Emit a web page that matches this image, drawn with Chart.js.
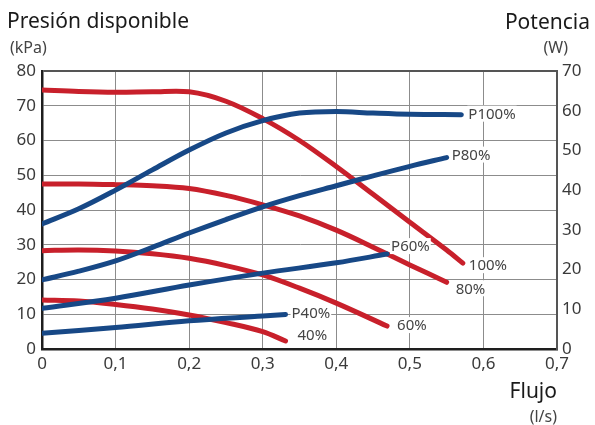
<!DOCTYPE html>
<html>
<head>
<meta charset="utf-8">
<script src="https://cdn.jsdelivr.net/npm/chart.js@4.4.0/dist/chart.umd.min.js"></script>
<style>
  html, body { margin: 0; padding: 0; background: #fff; }
  #wrap { position: relative; width: 595px; height: 425px; font-family: 'Noto Sans', sans-serif; color: #1a1a1a; }
  #wrap canvas { position: absolute; left: 0; top: 0; }
  .t { position: absolute; white-space: nowrap; line-height: 1; }
  .big { font-size: 21px; }
  .unit { font-size: 16px; color: #444; }
</style>
</head>
<body>
<div id="wrap">
  <canvas id="chart" width="595" height="425"></canvas>
  <div class="t big" style="left:7px; top:10px;">Presión disponible</div>
  <div class="t unit" style="left:10px; top:39px;">(kPa)</div>
  <div class="t big" style="right:5px; top:11px;">Potencia</div>
  <div class="t unit" style="right:27px; top:39px;">(W)</div>
  <div class="t big" style="right:38px; top:380px;">Flujo</div>
  <div class="t unit" style="right:38px; top:408px;">(l/s)</div>
</div>
<script>
  // Pressure curves (kPa, left axis)
  const flowR100 = [0, 0.05, 0.1, 0.15, 0.2, 0.25, 0.3, 0.35, 0.4, 0.45, 0.5, 0.55, 0.572];
  const presR100 = [74.5, 74.1, 73.9, 74.0, 74.0, 71.3, 66.3, 60.0, 52.5, 44.5, 36.5, 28.5, 24.7];
  const flowR80 = [0, 0.05, 0.1, 0.15, 0.2, 0.25, 0.3, 0.35, 0.4, 0.45, 0.5, 0.55];
  const presR80 = [47.5, 47.5, 47.3, 47.0, 46.2, 44.2, 41.5, 38.3, 34.2, 29.3, 24.2, 19.2];
  const flowR60 = [0, 0.05, 0.1, 0.15, 0.2, 0.25, 0.3, 0.35, 0.4, 0.469];
  const presR60 = [28.3, 28.5, 28.2, 27.4, 26.1, 24.0, 21.3, 17.5, 13.2, 6.6];
  const flowR40 = [0, 0.05, 0.1, 0.15, 0.2, 0.25, 0.3, 0.331];
  const presR40 = [14.1, 13.8, 12.8, 11.5, 9.8, 7.6, 5.0, 2.3];

  // Power curves (W, right axis)
  const flowP100 = [0, 0.05, 0.1, 0.15, 0.2, 0.25, 0.3, 0.35, 0.4, 0.45, 0.5, 0.57];
  const powP100 = [31.5, 35.3, 40.0, 45.1, 50.1, 54.4, 57.5, 59.4, 59.8, 59.4, 59.1, 59.0];
  const flowP80 = [0, 0.05, 0.1, 0.15, 0.2, 0.25, 0.3, 0.35, 0.4, 0.45, 0.5, 0.55];
  const powP80 = [17.4, 19.6, 22.2, 25.6, 29.2, 32.6, 35.8, 38.6, 41.1, 43.6, 46.0, 48.2];
  const flowP60 = [0, 0.1, 0.2, 0.3, 0.4, 0.469];
  const powP60 = [10.25, 12.8, 16.1, 19.1, 21.7, 23.9];
  const flowP40 = [0, 0.1, 0.2, 0.3, 0.331];
  const powP40 = [3.95, 5.4, 7.1, 8.3, 8.7];

  const endLabels = ['P100%', 'P80%', 'P60%', 'P40%', '100%', '80%', '60%', '40%'];

  const RED = '#c8202b';
  const BLUE = '#174886';

  // label offsets from the curve end (px)
  const labelOffsets = [[7, -1], [5, -3], [4, -8], [6, -2], [6, 2], [9, 6], [10, -1], [12, -6]];

  function pts(xs, ys) {
    return xs.map((x, i) => ({ x: x, y: ys[i] }));
  }

  function line(xs, ys, color, axis, text) {
    return {
      label: text,
      data: pts(xs, ys),
      yAxisID: axis,
      borderColor: color,
      borderWidth: 5,
      borderCapStyle: 'round',
      borderJoinStyle: 'round',
      pointRadius: 0,
      tension: 0.35,
      fill: false
    };
  }

  const datasets = [
    line(flowP100, powP100, BLUE, 'y1', endLabels[0]),
    line(flowP80, powP80, BLUE, 'y1', endLabels[1]),
    line(flowP60, powP60, BLUE, 'y1', endLabels[2]),
    line(flowP40, powP40, BLUE, 'y1', endLabels[3]),
    line(flowR100, presR100, RED, 'y', endLabels[4]),
    line(flowR80, presR80, RED, 'y', endLabels[5]),
    line(flowR60, presR60, RED, 'y', endLabels[6]),
    line(flowR40, presR40, RED, 'y', endLabels[7])
  ];

  const tickFont = { family: "'Noto Sans', sans-serif", size: 17 };
  const tickColor = '#3a3a3a';
  const gridColor = '#8c8c8c';

  const endLabelPlugin = {
    id: 'endLabels',
    afterDatasetsDraw(chart) {
      const ctx = chart.ctx;
      ctx.save();
      ctx.font = "15px 'Noto Sans', sans-serif";
      ctx.textBaseline = 'middle';
      chart.data.datasets.forEach((ds, i) => {
        const meta = chart.getDatasetMeta(i);
        const last = meta.data[meta.data.length - 1];
        const off = labelOffsets[i];
        const x = last.x + off[0];
        const y = last.y + off[1];
        const w = ctx.measureText(ds.label).width;
        ctx.fillStyle = '#fff';
        ctx.fillRect(x - 1, y - 8, w + 2, 16);
        ctx.fillStyle = '#444';
        ctx.fillText(ds.label, x, y + 1);
      });
      ctx.restore();
    }
  };

  new Chart(document.getElementById('chart'), {
    type: 'line',
    data: { datasets: datasets },
    options: {
      responsive: false,
      animation: false,
      layout: { padding: { top: 71, left: 0, right: 0, bottom: 0 } },
      plugins: {
        legend: { display: false },
        tooltip: { enabled: false }
      },
      scales: {
        x: {
          type: 'linear',
          min: 0,
          max: 0.7,
          afterFit(scale) { scale.height = 76; },
          ticks: {
            stepSize: 0.1,
            font: tickFont,
            color: tickColor,
            padding: 5,
            callback: v => v === 0 ? '0' : v.toFixed(1).replace('.', ',')
          },
          grid: { color: gridColor, lineWidth: 1, drawTicks: false },
          border: { display: true, color: '#1e1e1e', width: 2.5 }
        },
        y: {
          position: 'left',
          min: 0,
          max: 80,
          afterFit(scale) { scale.width = 42; },
          ticks: { stepSize: 10, font: tickFont, color: tickColor, padding: 6 },
          grid: {
            drawTicks: false,
            color: c => c.tick.value === 80 ? '#555' : gridColor,
            lineWidth: c => c.tick.value === 80 ? 2 : 1
          },
          border: { display: true, color: '#1e1e1e', width: 2.5 }
        },
        y1: {
          position: 'right',
          min: 0,
          max: 70,
          afterFit(scale) { scale.width = 38; },
          ticks: { stepSize: 10, font: tickFont, color: tickColor, padding: 5 },
          grid: { display: false, drawTicks: false },
          border: { display: true, color: '#555', width: 2 }
        }
      }
    },
    plugins: [endLabelPlugin]
  });
</script>
</body>
</html>
